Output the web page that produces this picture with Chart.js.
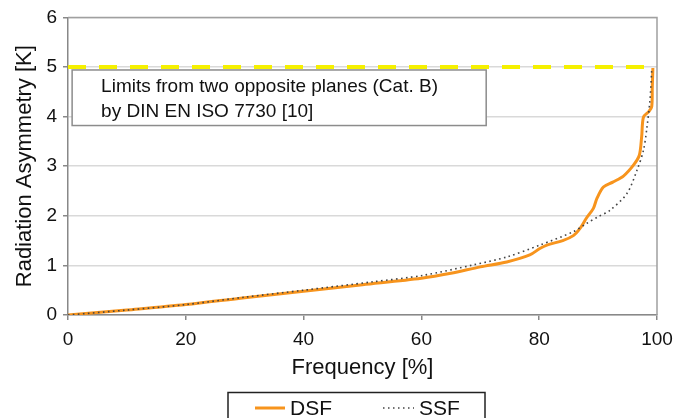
<!DOCTYPE html>
<html>
<head>
<meta charset="utf-8">
<script src="https://cdn.jsdelivr.net/npm/chart.js@4.4.1/dist/chart.umd.min.js"></script>
<style>
  html, body { margin: 0; padding: 0; background: #fff; }
  #wrap { width: 689px; height: 418px; }
</style>
</head>
<body>
<div id="wrap"><canvas id="chart"></canvas></div>
<script>
// frequency [%] and radiation asymmetry [K]
var dsfFreq = [0, 5, 10, 20, 30, 40, 50, 60, 65, 70, 74.5, 78.4, 80.1, 81.3, 84, 85.8, 86.9, 88, 89.2, 89.8, 90.9, 92.5, 94.3, 96, 97, 97.4, 97.7, 98.6, 99.1, 99.2, 99.3];
var dsfVal  = [0, 0.05, 0.1, 0.21, 0.35, 0.48, 0.61, 0.74, 0.84, 0.97, 1.07, 1.21, 1.34, 1.41, 1.5, 1.6, 1.74, 1.95, 2.15, 2.35, 2.58, 2.68, 2.8, 3.02, 3.22, 3.6, 3.99, 4.1, 4.2, 4.6, 4.98];

var ssfFreq = [0, 10, 20, 30, 40, 51.8, 60.3, 68.8, 74.5, 80.1, 85.8, 88.1, 90, 92, 94.9, 96.6, 97.7, 98.3, 98.8, 99.1];
var ssfVal  = [0, 0.1, 0.21, 0.36, 0.5, 0.67, 0.8, 1.01, 1.17, 1.41, 1.68, 1.85, 1.98, 2.11, 2.45, 2.92, 3.32, 3.79, 4.33, 4.93];

var limitFreq = [0, 100];
var limitVal  = [5, 5];

var xTicks = [0, 20, 40, 60, 80, 100];
var yTicks = [0, 1, 2, 3, 4, 5, 6];

var seriesNames = ["DSF", "SSF"];
var noteLines = ["Limits from two opposite planes (Cat. B)", "by DIN EN ISO 7730 [10]"];

function pairs(xs, ys) {
	var out = [];
	for (var i = 0; i < xs.length; i++) out.push({ x: xs[i], y: ys[i] });
	return out;
}

var FONT = "'Liberation Sans', Arial, sans-serif";
var ORANGE = "#f7941d";

var extras = {
	id: "extras",
	beforeDatasetsDraw: function (chart) {
		var c = chart.ctx, a = chart.chartArea;
		c.save();
		c.strokeStyle = "#a0a0a0";
		c.lineWidth = 1.5;
		c.beginPath();
		c.moveTo(a.left, a.top);
		c.lineTo(a.right, a.top);
		c.lineTo(a.right, a.bottom);
		c.stroke();
		c.restore();
	},
	afterDatasetsDraw: function (chart) {
		var c = chart.ctx;
		var xs = chart.scales.x, ys = chart.scales.y;
		c.save();
		// note box
		var bx = xs.getPixelForValue(0.7), bx2 = xs.getPixelForValue(71);
		var by = ys.getPixelForValue(4.94), by2 = ys.getPixelForValue(3.82);
		c.fillStyle = "#fff";
		c.fillRect(bx, by, bx2 - bx, by2 - by);
		c.strokeStyle = "#8c8c8c";
		c.lineWidth = 1.5;
		c.strokeRect(bx, by, bx2 - bx, by2 - by);
		c.fillStyle = "#111";
		c.font = "19px " + FONT;
		c.textBaseline = "middle";
		c.fillText(noteLines[0], bx + 29, by + 17);
		c.fillText(noteLines[1], bx + 29, by + 42);

		// legend
		c.strokeStyle = "#222";
		c.lineWidth = 1.5;
		c.strokeRect(228, 392.5, 257, 40);
		c.strokeStyle = ORANGE;
		c.lineWidth = 3;
		c.beginPath();
		c.moveTo(255, 408);
		c.lineTo(285, 408);
		c.stroke();
		c.strokeStyle = "#444";
		c.lineWidth = 1.5;
		c.setLineDash([1.5, 3.5]);
		c.beginPath();
		c.moveTo(383, 408);
		c.lineTo(414, 408);
		c.stroke();
		c.setLineDash([]);
		c.fillStyle = "#111";
		c.font = "21px " + FONT;
		c.fillText(seriesNames[0], 290, 409);
		c.fillText(seriesNames[1], 419, 409);
		c.restore();
	}
};

var ctx = document.getElementById("chart");

var chart = new Chart(ctx, {
	type: "line",
	data: {
		datasets: [
			{
				label: seriesNames[1],
				data: pairs(ssfFreq, ssfVal),
				borderColor: "#444",
				borderWidth: 1.6,
				borderDash: [1.6, 3.4],
				pointRadius: 0,
				tension: 0.3,
				order: 0
			},
			{
				label: seriesNames[0],
				data: pairs(dsfFreq, dsfVal),
				borderColor: ORANGE,
				borderWidth: 3,
				pointRadius: 0,
				tension: 0.3,
				order: 1
			},
			{
				label: "limit",
				data: pairs(limitFreq, limitVal),
				borderColor: "#f5f000",
				borderWidth: 4,
				borderDash: [18, 13],
				pointRadius: 0,
				order: 2
			}
		]
	},
	options: {
		responsive: true,
		maintainAspectRatio: false,
		animation: false,
		layout: { padding: { left: 0, right: 32, top: 17, bottom: 0 } },
		plugins: {
			legend: { display: false },
			tooltip: { enabled: false }
		},
		scales: {
			x: {
				type: "linear",
				min: 0,
				max: 100,
				afterFit: function (s) { s.height = 103; },
				afterBuildTicks: function (s) { s.ticks = xTicks.map(function (v) { return { value: v }; }); },
				grid: { drawOnChartArea: false, tickLength: 5, color: "#888", lineWidth: 1.5 },
				border: { color: "#888", width: 1.5 },
				ticks: { color: "#111", padding: 8, maxRotation: 0, font: { family: FONT, size: 19 } },
				title: {
					display: true,
					text: "Frequency [%]",
					color: "#111",
					font: { family: FONT, size: 22 },
					padding: { top: 0, bottom: 37 }
				}
			},
			y: {
				min: 0,
				max: 6,
				afterFit: function (s) { s.width = 68; },
				afterBuildTicks: function (s) { s.ticks = yTicks.map(function (v) { return { value: v }; }); },
				grid: {
					color: "#d9d9d9",
					lineWidth: 1.5,
					tickLength: 5,
					tickColor: "#888"
				},
				border: { color: "#888", width: 1.5 },
				ticks: { color: "#111", padding: 6, font: { family: FONT, size: 19 } },
				title: {
					display: true,
					text: "Radiation Asymmetry [K]",
					color: "#111",
					font: { family: FONT, size: 22 },
					padding: { top: 12, bottom: 0 }
				}
			}
		}
	},
	plugins: [extras]
});
</script>
</body>
</html>
